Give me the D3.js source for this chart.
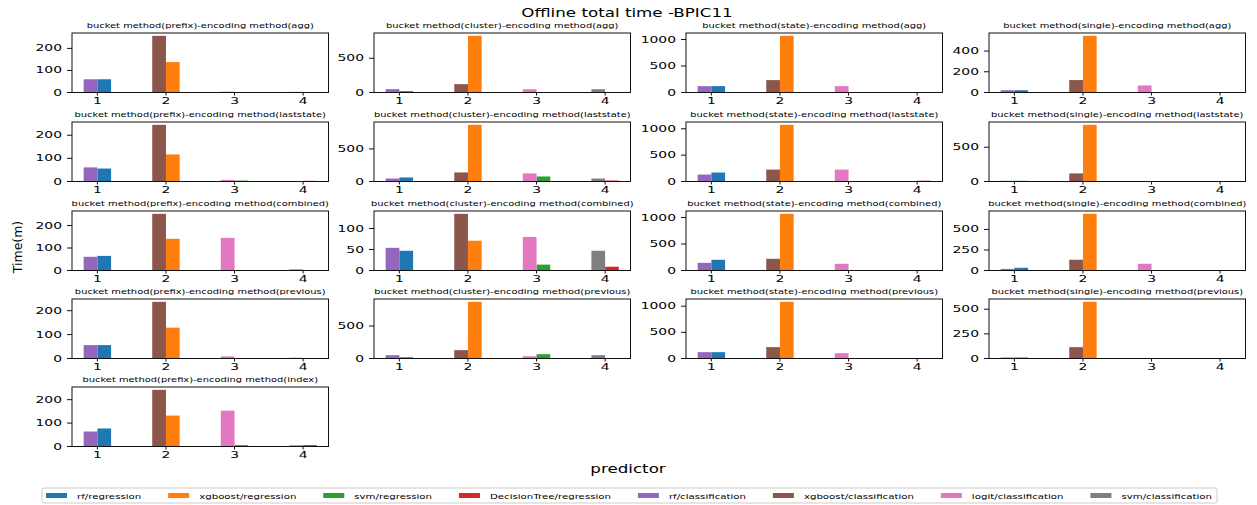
<!DOCTYPE html>
<html>
<head>
<meta charset="utf-8">
<script src="https://cdn.jsdelivr.net/npm/d3@7"></script>
<style>
  body { margin: 0; background: #fff; }
  text { font-family: "DejaVu Sans", sans-serif; fill: #000; }
</style>
</head>
<body>
<svg id="chart"></svg>
<script>
// Data (minutes)
var buckets = ["prefix", "cluster", "state", "single"];
var encodings = ["agg", "laststate", "combined", "previous", "index"];
var predictors = [1, 2, 3, 4];

// one value per panel, panels row by row (encoding), columns = bucket; index only has prefix
var rfClass    = [60, 49, 120, 22,   61, 46, 132, 10,   61, 54, 145, 20,   56, 51, 121, 10,   64];
var rfReg      = [60, 20, 120, 22,   56, 62, 170, 10,   65, 47, 202, 33,   56, 19, 121, 10,   77];
var xgbClass   = [257, 122, 234, 120, 245, 139, 226, 118, 252, 135, 221, 131, 237, 128, 217, 115, 242];
var xgbReg     = [138, 828, 1070, 547, 117, 870, 1075, 827, 141, 71, 1070, 690, 129, 871, 1083, 575, 132];
var logitClass = [4, 48, 120, 68,    7, 124, 226, 2,    145, 80, 126, 82,  9, 35, 102, 2,    153];
var svmReg     = [1, 3, 5, 1,        4, 77, 5, 3,       2, 14, 5, 3,       1, 66, 3, 2,      6];
var svmClass   = [3, 48, 2, 1,       2, 46, 3, 2,       5, 47, 3, 2,       3, 51, 2, 1,      5];
var dtReg      = [1, 4, 5, 1,        3, 15, 15, 3,      2, 9, 5, 3,        1, 5, 2, 2,       6];

var yTicks = [
  [0, 100, 200], [0, 500], [0, 500, 1000], [0, 200, 400],
  [0, 100, 200], [0, 500], [0, 500, 1000], [0, 500],
  [0, 100, 200], [0, 50, 100], [0, 500, 1000], [0, 250, 500],
  [0, 100, 200], [0, 500], [0, 500, 1000], [0, 250, 500],
  [0, 100, 200]
];

// series: name, values, predictor group, side of the tick (-1 left, 0 right)
var series = [
  { name: "rf/regression",           values: rfReg,      group: 1, side: 0,  color: "#1f77b4" },
  { name: "xgboost/regression",      values: xgbReg,     group: 2, side: 0,  color: "#ff7f0e" },
  { name: "svm/regression",          values: svmReg,     group: 3, side: 0,  color: "#2ca02c" },
  { name: "DecisionTree/regression", values: dtReg,      group: 4, side: 0,  color: "#d62728" },
  { name: "rf/classification",       values: rfClass,    group: 1, side: -1, color: "#9467bd" },
  { name: "xgboost/classification",  values: xgbClass,   group: 2, side: -1, color: "#8c564b" },
  { name: "logit/classification",    values: logitClass, group: 3, side: -1, color: "#e377c2" },
  { name: "svm/classification",      values: svmClass,   group: 4, side: -1, color: "#7f7f7f" }
];

var width = 1257, height = 505;
var svg = d3.select("#chart").attr("width", width).attr("height", height);

// the picture is squashed vertically, so text is too
var SY_TICK = 0.6, SY = 0.72;
var colLeft = [72, 374, 686, 989], colW = 256.5;
var rowTop = [33, 122, 211, 299, 387], rowH = 59.5;
var barW = 0.2;

function addText(g, x, y, str, size, anchor, sy) {
  return g.append("text")
    .attr("transform", "translate(" + x + "," + y + ") scale(1," + sy + ")")
    .attr("font-size", size)
    .attr("text-anchor", anchor)
    .text(str);
}

// panels
var panels = [];
encodings.forEach(function (enc, r) {
  buckets.forEach(function (b, c) {
    if (enc == "index" && b != "prefix") return;
    panels.push({ bucket: b, encoding: enc, row: r, col: c });
  });
});

panels.forEach(function (p, i) {
  var left = colLeft[p.col], top = rowTop[p.row];
  var g = svg.append("g");

  var x = d3.scaleLinear().domain([0.63, 4.37]).range([left, left + colW]);
  var maxV = d3.max(series, function (s) { return s.values[i]; });
  var y = d3.scaleLinear().domain([0, maxV * 1.05]).range([top + rowH, top]);

  // bars
  g.selectAll("rect.bar")
    .data(series)
    .enter().append("rect")
    .attr("class", "bar")
    .attr("x", function (s) { return x(s.group + s.side * barW); })
    .attr("width", function (s) { return x(barW) - x(0); })
    .attr("y", function (s) { return y(s.values[i]); })
    .attr("height", function (s) { return y(0) - y(s.values[i]); })
    .attr("fill", function (s) { return s.color; });

  // frame
  g.append("rect")
    .attr("x", left).attr("y", top)
    .attr("width", colW).attr("height", rowH)
    .attr("fill", "none").attr("stroke", "#111").attr("stroke-width", 1);

  // x ticks
  predictors.forEach(function (v) {
    g.append("line")
      .attr("x1", x(v)).attr("x2", x(v))
      .attr("y1", top + rowH).attr("y2", top + rowH + 3)
      .attr("stroke", "#111").attr("stroke-width", 1);
    addText(g, x(v), top + rowH + 11, v, 13.9, "middle", SY_TICK);
  });

  // y ticks
  yTicks[i].forEach(function (v) {
    g.append("line")
      .attr("x1", left - 5).attr("x2", left)
      .attr("y1", y(v)).attr("y2", y(v))
      .attr("stroke", "#111").attr("stroke-width", 1);
    addText(g, left - 10, y(v), v, 13.9, "end", SY_TICK).attr("dy", "0.36em");
  });

  addText(g, left + colW / 2, top - 5.5,
    "bucket method(" + p.bucket + ")-encoding method(" + p.encoding + ")", 9.9, "middle", SY);
});

// titles
addText(svg, 627, 16.5, "Offline total time -BPIC11", 16.7, "middle", SY);
addText(svg, 628, 473, "predictor", 16.7, "middle", SY);
svg.append("text")
  .attr("transform", "translate(22,247) scale(0.95,1) rotate(-90)")
  .attr("font-size", 12.5)
  .attr("text-anchor", "middle")
  .text("Time(m)");

// legend, one row
var legend = svg.append("g");
legend.append("rect")
  .attr("x", 42).attr("y", 488).attr("width", 1175).attr("height", 15)
  .attr("fill", "#fff").attr("stroke", "#ccc").attr("stroke-width", 1).attr("rx", 2);

var labels = series.map(function (s) {
  return addText(legend, 0, 498.5, s.name, 10.2, "start", SY);
});
var widths = labels.map(function (t) { return t.node().getComputedTextLength(); });
var gapText = 31, startX = 46, endX = 1212;
var colSpacing = (endX - startX - gapText * series.length - d3.sum(widths)) / (series.length - 1);

var cx = startX;
series.forEach(function (s, k) {
  legend.append("rect")
    .attr("x", cx).attr("y", 493).attr("width", 21).attr("height", 5)
    .attr("fill", s.color);
  labels[k].attr("transform", "translate(" + (cx + gapText) + ",498.5) scale(1," + SY + ")");
  cx += gapText + widths[k] + colSpacing;
});
</script>
</body>
</html>
